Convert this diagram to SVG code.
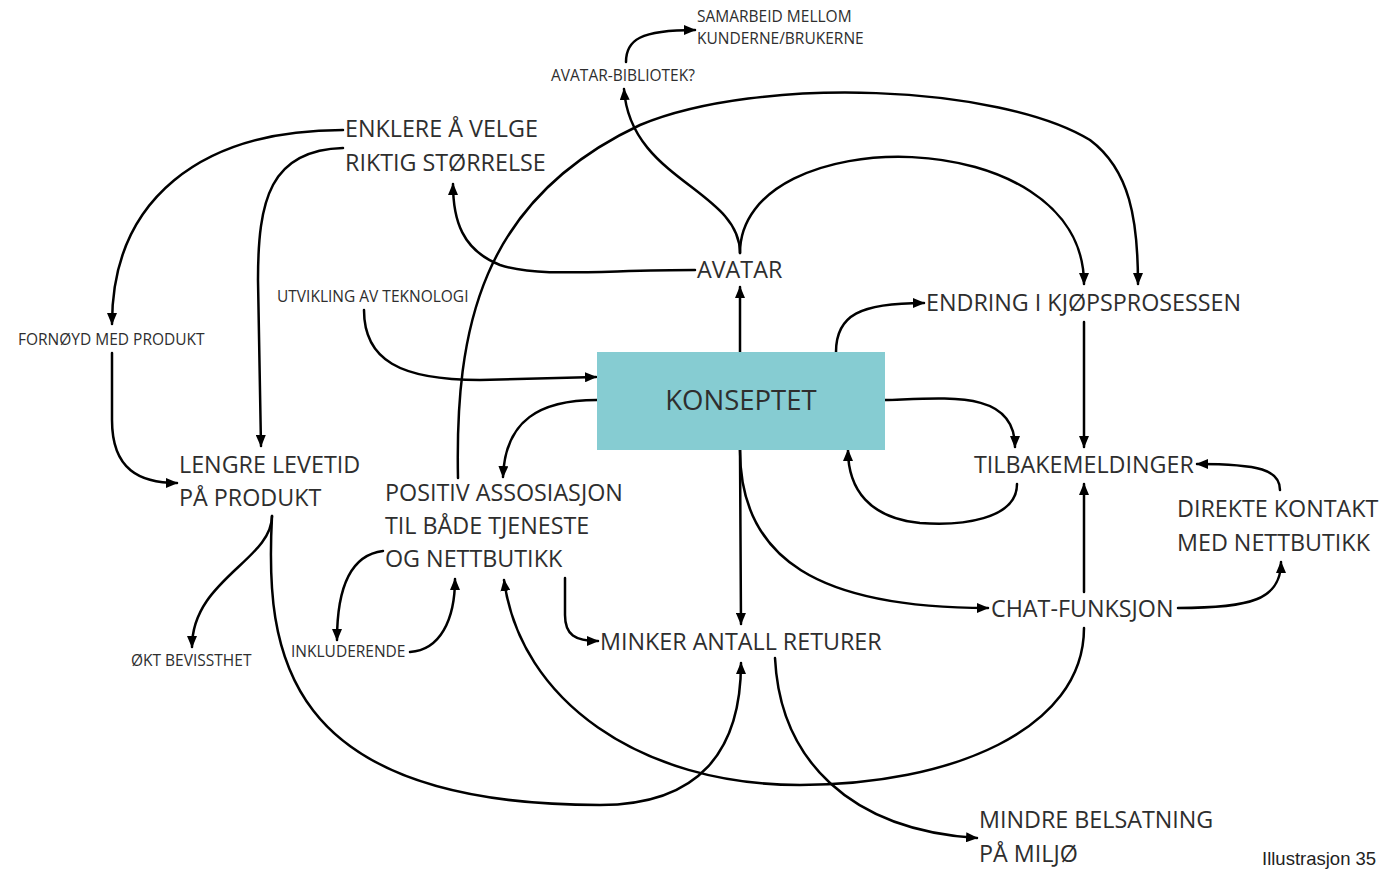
<svg xmlns="http://www.w3.org/2000/svg" width="1382" height="870" viewBox="0 0 1382 870">
  <style>
    .lbl { font-family: "Open Sans", "Noto Sans", "DejaVu Sans", sans-serif; fill: #2e2e2e; }
    .big { font-size: 23.3px; }
    .small { font-size: 15.5px; }
    .title { font-size: 27.5px; }
    .cap { font-family: "Liberation Sans", "Open Sans", sans-serif; font-size: 18.5px; fill: #222; }
    .conn path { fill: none; stroke: #000; stroke-width: 2.5; stroke-linecap: round; }
    .arr { marker-end: url(#head); }
  </style>
  <defs>
    <marker id="head" viewBox="0 0 12 10" refX="11" refY="5" markerWidth="12" markerHeight="10" markerUnits="userSpaceOnUse" orient="auto">
      <path d="M0,0 L12,5 L0,10 Z" fill="#000"/>
    </marker>
  </defs>

  <rect width="1382" height="870" fill="#fff"/>

  <!-- connectors -->
  <g id="connectors" class="conn">
    <path class="arr" d="M626,62 C626,40 640,30 695,30"/>
    <path class="arr" d="M740,253 C740,190 630,180 624,89"/>
    <path class="arr" d="M740,253 C740,120 1084,120 1084,284"/>
    <path class="arr" d="M458,478 C455,330 480,200 640,125 C760,75 1000,85 1090,140 C1130,170 1138,220 1138,284"/>
    <path class="arr" d="M343,130 C200,130 112,200 112,324"/>
    <path class="arr" d="M343,148 C270,150 258,200 258,280 L261,446"/>
    <path class="arr" d="M695,270 C600,270 540,278 500,265 C462,250 453,220 453,184"/>
    <path class="arr" d="M364,310 C364,360 400,380 480,380 L596,377"/>
    <path class="arr" d="M112,353 L112,420 C112,470 140,483 177,483"/>
    <path class="arr" d="M597,400 C540,400 505,420 503,477"/>
    <path class="arr" d="M740,352 L740,287"/>
    <path class="arr" d="M836,352 C836,315 860,303 924,303"/>
    <path class="arr" d="M885,400 C950,398 1015,390 1015,447"/>
    <path class="arr" d="M1017,484 C1017,520 960,526 920,523 C870,518 848,490 848,450"/>
    <path class="arr" d="M1084,322 L1084,447"/>
    <path class="arr" d="M1084,592 L1084,484"/>
    <path class="arr" d="M1280,490 C1280,470 1260,464 1197,464"/>
    <path class="arr" d="M1178,608 C1250,608 1281,600 1281,562"/>
    <path class="arr" d="M740,450 C740,560 820,608 988,608"/>
    <path class="arr" d="M740,450 L741,624"/>
    <path class="arr" d="M565,578 L565,615 C565,635 575,641 598,641"/>
    <path class="arr" d="M383,551 C350,555 337,590 337,640"/>
    <path class="arr" d="M410,652 C440,650 455,620 455,579"/>
    <path class="arr" d="M272,516 C272,560 192,580 192,647"/>
    <path class="arr" d="M272,516 C265,650 280,805 600,805 C700,805 741,750 741,663"/>
    <path class="arr" d="M1084,628 C1084,730 950,785 800,785 C640,785 520,700 504,580"/>
    <path class="arr" d="M775,658 C780,760 850,830 977,838"/>
  </g>

  <!-- central concept box -->
  <g id="konseptet">
    <rect x="597" y="352" width="288" height="98" fill="#86ccd2"/>
    <text class="lbl title" x="741" y="410" text-anchor="middle">KONSEPTET</text>
  </g>

  <g id="samarbeid">
    <text class="lbl small" x="697" y="22">SAMARBEID MELLOM</text>
    <text class="lbl small" x="697" y="44">KUNDERNE/BRUKERNE</text>
  </g>
  <g id="avatar-bibliotek">
    <text class="lbl small" x="551" y="81">AVATAR-BIBLIOTEK?</text>
  </g>
  <g id="enklere">
    <text class="lbl big" x="345" y="137">ENKLERE Å VELGE</text>
    <text class="lbl big" x="345" y="171">RIKTIG STØRRELSE</text>
  </g>
  <g id="avatar">
    <text class="lbl big" x="697" y="278">AVATAR</text>
  </g>
  <g id="utvikling">
    <text class="lbl small" x="277" y="302">UTVIKLING AV TEKNOLOGI</text>
  </g>
  <g id="fornoyd">
    <text class="lbl small" x="18" y="345">FORNØYD MED PRODUKT</text>
  </g>
  <g id="endring">
    <text class="lbl big" x="926" y="311">ENDRING I KJØPSPROSESSEN</text>
  </g>
  <g id="tilbakemeldinger">
    <text class="lbl big" x="974" y="473">TILBAKEMELDINGER</text>
  </g>
  <g id="lengre-levetid">
    <text class="lbl big" x="179" y="473">LENGRE LEVETID</text>
    <text class="lbl big" x="179" y="506">PÅ PRODUKT</text>
  </g>
  <g id="positiv">
    <text class="lbl big" x="385" y="501">POSITIV ASSOSIASJON</text>
    <text class="lbl big" x="385" y="534">TIL BÅDE TJENESTE</text>
    <text class="lbl big" x="385" y="567">OG NETTBUTIKK</text>
  </g>
  <g id="direkte-kontakt">
    <text class="lbl big" x="1177" y="517">DIREKTE KONTAKT</text>
    <text class="lbl big" x="1177" y="551">MED NETTBUTIKK</text>
  </g>
  <g id="chat">
    <text class="lbl big" x="991" y="617">CHAT-FUNKSJON</text>
  </g>
  <g id="minker">
    <text class="lbl big" x="600" y="650">MINKER ANTALL RETURER</text>
  </g>
  <g id="inkluderende">
    <text class="lbl small" x="291" y="657">INKLUDERENDE</text>
  </g>
  <g id="okt-bevissthet">
    <text class="lbl small" x="131" y="666">ØKT BEVISSTHET</text>
  </g>
  <g id="mindre-belastning">
    <text class="lbl big" x="979" y="828">MINDRE BELSATNING</text>
    <text class="lbl big" x="979" y="862">PÅ MILJØ</text>
  </g>
  <text class="cap" x="1262" y="865">Illustrasjon 35</text>
</svg>
